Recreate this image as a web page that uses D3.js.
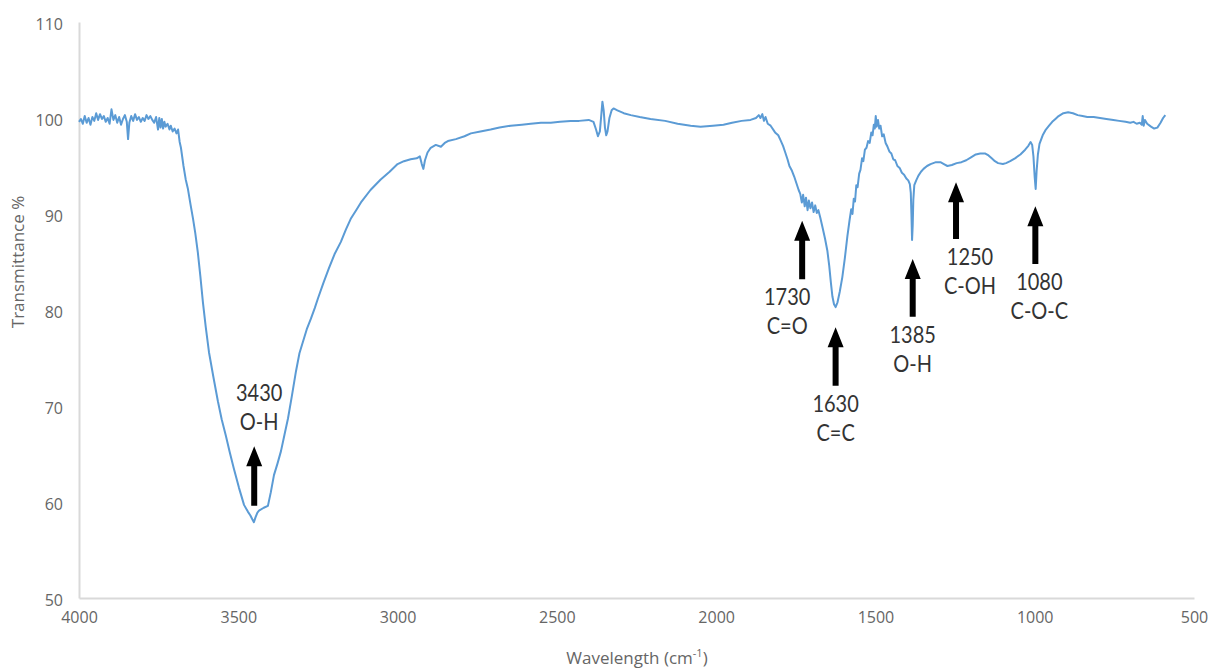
<!DOCTYPE html>
<html>
<head>
<meta charset="utf-8">
<script src="https://cdn.jsdelivr.net/npm/d3@7"></script>
<style>
  html, body { margin: 0; padding: 0; background: #fff; }
  svg { display: block; }
</style>
</head>
<body>
<svg id="chart" width="1213" height="670"></svg>
<script>
// FTIR spectrum: wavenumber (cm-1) against transmittance (%)
const wavenumbers = [
  4000,3994,3988,3982,3976,3970,3964,3958,3952,3946,3940,3934,3928,3922,3916,3910,3904,3898,3892,3886,
  3880,3874,3868,3862,3856,3850,3846,3842,3836,3830,3824,3818,3812,3806,3800,3794,3788,3782,3776,3770,
  3764,3758,3752,3748,3744,3740,3736,3732,3728,3722,3716,3712,3706,3700,3694,3689,3684,3680,3672,3665,
  3658,3650,3642,3635,3627,3619,3611,3602,3592,3578,3564,3552,3539,3527,3514,3498,3482,3470,3462,3456,
  3451,3446,3440,3435,3420,3407,3398,3388,3377,3366,3355,3344,3332,3319,3308,3297,3285,3272,3260,3250,
  3233,3216,3198,3178,3162,3147,3130,3115,3085,3053,3025,3000,2980,2959,2940,2930,2924,2919,2914,2906,
  2896,2880,2864,2852,2842,2817,2790,2770,2740,2708,2680,2645,2610,2582,2550,2519,2490,2457,2430,2400,
  2385,2377,2371,2365,2360,2357,2353,2349,2345,2341,2335,2328,2322,2310,2290,2268,2240,2206,2160,2121,
  2080,2049,2010,1977,1950,1920,1892,1875,1866,1861,1855,1850,1845,1838,1829,1815,1805,1798,1790,1783,
  1776,1770,1762,1755,1748,1741,1736,1731,1727,1722,1718,1713,1709,1704,1699,1694,1689,1684,1679,1673,
  1666,1658,1651,1645,1640,1635,1630,1625,1619,1612,1604,1596,1588,1581,1576,1572,1568,1564,1560,1556,
  1551,1547,1542,1538,1533,1528,1523,1518,1513,1509,1505,1502,1499,1496,1492,1488,1484,1479,1474,1468,
  1462,1456,1450,1444,1438,1431,1424,1417,1410,1403,1397,1392,1389,1387,1385,1383,1381,1378,1372,1365,
  1357,1349,1338,1327,1310,1296,1285,1274,1260,1245,1230,1215,1200,1185,1171,1155,1145,1135,1125,1115,
  1100,1090,1077,1062,1045,1030,1020,1013,1008,1004,1000,997,994,990,985,975,965,955,945,935,
  925,910,895,880,865,850,835,815,795,775,753,735,715,700,690,680,670,664,661,658,
  654,647,635,625,615,605,597,590
];
const transmittance = [
  99.6,99.9,99.4,100.2,99.5,100.0,99.3,100.1,99.7,100.5,99.8,100.4,99.9,100.2,99.6,100.0,99.4,100.9,99.8,100.3,
  99.5,100.1,99.3,99.9,100.3,99.6,97.8,99.5,100.2,99.7,100.4,99.8,100.1,99.6,100.0,99.7,100.3,99.9,100.2,99.8,
  99.5,100.1,98.8,100.0,99.0,99.9,98.9,99.6,99.1,99.4,98.8,99.2,98.6,98.9,98.4,98.8,97.5,96.9,95.0,93.6,
  92.6,91.0,89.5,88.0,86.0,83.5,80.8,78.2,75.6,73.0,70.5,68.6,66.9,65.2,63.5,61.5,59.7,59.0,58.6,58.2,
  57.9,58.4,58.9,59.1,59.4,59.6,61.0,62.8,64.0,65.3,67.0,68.7,71.0,73.6,75.5,76.7,78.0,79.1,80.2,81.2,
  82.8,84.3,85.8,87.1,88.4,89.5,90.4,91.2,92.5,93.6,94.4,95.2,95.5,95.7,95.8,96.0,95.2,94.7,95.6,96.4,
  96.9,97.2,97.0,97.4,97.6,97.8,98.1,98.4,98.6,98.8,99.0,99.2,99.3,99.4,99.5,99.5,99.6,99.7,99.7,99.8,
  99.6,98.8,98.1,98.6,100.5,101.7,100.8,99.0,98.2,98.6,100.0,100.8,101.0,100.8,100.5,100.3,100.1,99.9,99.7,99.4,
  99.2,99.1,99.2,99.3,99.5,99.7,99.8,100.0,100.3,100.0,100.4,99.7,100.1,99.4,99.2,98.5,98.2,97.7,97.1,96.4,
  95.7,95.0,94.5,93.9,93.2,92.5,92.1,91.2,92.0,90.8,91.7,90.4,91.4,90.6,91.2,90.2,90.9,90.1,90.4,89.6,
  88.6,87.4,86.2,84.6,82.9,81.4,80.6,80.3,80.8,81.9,83.4,85.4,87.7,89.4,90.5,90.0,91.6,91.3,93.0,92.8,
  94.2,94.6,95.8,95.5,96.7,96.9,97.6,97.4,98.5,98.2,99.3,98.9,100.2,99.1,99.8,98.9,99.2,98.1,98.3,97.4,
  97.0,96.5,96.3,95.7,95.6,95.0,94.8,94.3,94.1,93.7,93.5,93.1,92.2,90.0,87.3,88.8,91.5,93.0,93.5,94.0,
  94.4,94.7,95.0,95.2,95.4,95.4,95.2,95.0,95.1,95.3,95.4,95.6,95.9,96.2,96.3,96.3,96.1,95.8,95.5,95.3,
  95.2,95.3,95.5,95.8,96.2,96.7,97.1,97.5,97.2,96.0,93.8,92.6,94.5,96.2,97.3,98.2,98.8,99.2,99.6,99.9,
  100.2,100.5,100.6,100.5,100.3,100.2,100.1,100.1,100.0,99.9,99.8,99.7,99.6,99.5,99.6,99.4,99.5,99.3,100.2,99.2,
  99.8,99.4,99.1,98.9,99.0,99.5,100.0,100.3
];

// axis ticks
const xTicks = [4000, 3500, 3000, 2500, 2000, 1500, 1000, 500];
const yTicks = [50, 60, 70, 80, 90, 100, 110];

// band assignments
const bandNumbers = ["3430", "1730", "1630", "1385", "1250", "1080"];
const bandGroups  = ["O-H", "C=O", "C=C", "O-H", "C-OH", "C-O-C"];
const arrowAt     = [3450, 1730, 1625, 1383, 1247, 998];   // cm-1
const arrowTip    = [65.8, 89.3, 78.2, 85.3, 93.3, 90.8];  // %
const arrowTail   = [59.6, 83.2, 72.1, 79.3, 87.4, 84.8];  // %

// label layout: which side of the arrow, and a small horizontal nudge (px)
const labelSide = ["above", "below", "below", "below", "below", "below"];
const labelNudge = [5, -15, 0, 0, 14, 4];

const svg = d3.select("#chart");

const x = d3.scaleLinear().domain([4000, 500]).range([79, 1194]);
const y = d3.scaleLinear().domain([50, 110]).range([598, 22]);

const axisColor = "#d9d9d9";
const tickColor = "#666666";
const font = "'Open Sans', 'Noto Sans', sans-serif";
const labelFont = "Lato, 'Open Sans', sans-serif";

// x axis
const xAxis = svg.append("g")
  .attr("transform", `translate(0,${y(50)})`)
  .call(d3.axisBottom(x).tickValues(xTicks).tickSize(0).tickPadding(14).tickFormat(d3.format("d")));
xAxis.select(".domain").attr("stroke", axisColor).attr("stroke-width", 2);
xAxis.selectAll("text").attr("fill", tickColor).attr("font-size", 16).attr("font-family", font);

// y axis
const yAxis = svg.append("g")
  .attr("transform", `translate(${x(4000)},0)`)
  .call(d3.axisLeft(y).tickValues(yTicks).tickSize(0).tickPadding(16).tickFormat(d3.format("d")));
yAxis.select(".domain").attr("stroke", axisColor).attr("stroke-width", 2);
yAxis.selectAll("text").attr("fill", tickColor).attr("font-size", 16).attr("font-family", font)
  .attr("dy", "0.45em");

// axis titles
const xTitle = svg.append("text")
  .attr("x", 637).attr("y", 664)
  .attr("text-anchor", "middle")
  .attr("fill", tickColor).attr("font-size", 17).attr("font-family", font);
xTitle.append("tspan").text("Wavelength (cm");
xTitle.append("tspan").attr("baseline-shift", "super").attr("font-size", 11).text("-1");
xTitle.append("tspan").text(")");

svg.append("text")
  .attr("transform", `translate(24,${262}) rotate(-90)`)
  .attr("text-anchor", "middle")
  .attr("fill", tickColor).attr("font-size", 17).attr("font-family", font)
  .text("Transmittance %");

// spectrum
const spectrum = d3.zip(wavenumbers, transmittance);
svg.append("path")
  .datum(spectrum)
  .attr("fill", "none")
  .attr("stroke", "#5b9bd5")
  .attr("stroke-width", 2)
  .attr("stroke-linejoin", "round")
  .attr("d", d3.line().x(d => x(d[0])).y(d => y(d[1])));

// band arrows
const shaftHalf = 3, headHalf = 8, headLen = 20;
const bands = bandNumbers.map((n, i) => ({
  num: n, group: bandGroups[i], wn: arrowAt[i], tip: arrowTip[i], tail: arrowTail[i],
  side: labelSide[i], nudge: labelNudge[i]
}));

svg.append("g").selectAll("path")
  .data(bands)
  .join("path")
  .attr("fill", "#000")
  .attr("d", d => {
    const cx = x(d.wn), yt = y(d.tip), yb = y(d.tail);
    return `M${cx},${yt} L${cx + headHalf},${yt + headLen} L${cx + shaftHalf},${yt + headLen}` +
           ` L${cx + shaftHalf},${yb} L${cx - shaftHalf},${yb} L${cx - shaftHalf},${yt + headLen}` +
           ` L${cx - headHalf},${yt + headLen} Z`;
  });

// two-line band labels: wavenumber over functional group
const labelBase = d => d.side === "above" ? y(d.tip) - 45 : y(d.tail) + 26;
const lineGap = 29;
[["num", 0], ["group", 1]].forEach(([key, row]) => {
  svg.append("g").selectAll("text")
    .data(bands)
    .join("text")
    .attr("text-anchor", "middle")
    .attr("fill", "#333333")
    .attr("font-size", 20)
    .attr("font-family", labelFont)
    .attr("transform", d => `translate(${x(d.wn) + d.nudge},${labelBase(d) + row * lineGap}) scale(1,1.15)`)
    .text(d => d[key]);
});
</script>
</body>
</html>
